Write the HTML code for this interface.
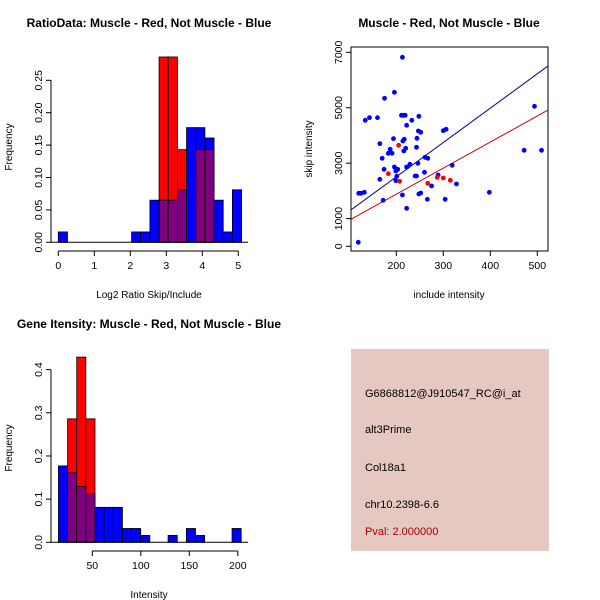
<!DOCTYPE html>
<html><head><meta charset="utf-8"><style>
html,body{margin:0;padding:0;background:#fff;}
svg{display:block;font-family:"Liberation Sans",sans-serif;}
</style></head><body>
<svg id="svg" width="600" height="600" xmlns="http://www.w3.org/2000/svg">
<rect width="600" height="600" fill="#fff"/>
<g id="p1"></g>
<g id="p2"></g>
<g id="p3"></g>
<g id="p4">
<rect x="351" y="349" width="198" height="202" fill="#e6c8c2"/>
<text x="365" y="397" font-size="11" fill="#000">G6868812@J910547_RC@i_at</text>
<text x="365" y="433" font-size="11" fill="#000">alt3Prime</text>
<text x="365" y="471" font-size="11" fill="#000">Col18a1</text>
<text x="365" y="508" font-size="11" fill="#000">chr10.2398-6.6</text>
<text x="365" y="535" font-size="11" fill="#a00000">Pval: 2.000000</text>
</g>
</svg>
<script>
// Panel 1: ratio histogram (20 bins, width 0.2545 from 0)
const ratioBlue = [0.016,0,0,0,0,0,0,0,0.016,0.016,0.065,0.065,0.065,0.081,0.177,0.177,0.161,0.065,0.016,0.081];
const ratioRed  = [0,0,0,0,0,0,0,0,0,0,0,0.286,0.286,0.143,0,0.143,0.143,0,0,0];
const ratioXTicks = [0,1,2,3,4,5];
const ratioYTicks = ["0.00","0.05","0.10","0.15","0.20","0.25"];
// Panel 3: intensity histogram (20 bins from 15.1, width 9.42)
const intBlue = [0.177,0.161,0.129,0.113,0.081,0.081,0.081,0.032,0.032,0.016,0,0,0.016,0,0.032,0.016,0,0,0,0.032];
const intRed  = [0,0.286,0.429,0.286,0,0,0,0,0,0,0,0,0,0,0,0,0,0,0,0];
const intXTicks = [50,100,150,200];
const intYTicks = ["0.0","0.1","0.2","0.3","0.4"];
// Panel 2: scatter
const blueX = [119,120,125,132,134,143,160,175,196,213,165,170,174,165,172,183,187,191,194,196,203,199,199,201,214,217,215,219,211,222,233,248,220,216,222,229,213,222,243,244,247,252,246,261,267,240,243,260,248,252,266,275,289,300,306,319,328,304,398,472,494,509];
const blueY = [144,1912,1912,1948,4547,4643,4643,5340,5557,6820,3705,3175,2778,2418,1660,3356,3500,3356,3885,2862,2778,2718,2370,2526,3800,3861,4727,4727,4727,4366,4547,4691,3536,3440,2862,2959,1852,1371,3572,3897,4162,4114,2995,3211,3175,2538,2538,2670,1888,1924,1696,2177,2574,4174,4222,2923,2249,1696,1948,3464,5052,3464];
const redX = [183,205,207,267,287,300,315];
const redY = [2622,3644,2345,2273,2490,2466,2381];
const blueLine = [28.7,12.39]; // intercept, slope
const redLine = [1,9.40];
const scXTicks = [200,300,400,500];
const scYTicks = [0,1000,3000,5000,7000];

const NS="http://www.w3.org/2000/svg";
function mk(parent,tag,attrs,txt){const e=document.createElementNS(NS,tag);for(const k in attrs)e.setAttribute(k,attrs[k]);if(txt!==undefined)e.textContent=txt;parent.appendChild(e);return e;}

function hist(g,blue,red,b0,bw,sx,sy){
  for(let i=0;i<blue.length;i++){
    const xa=sx(b0+i*bw), xb=sx(b0+(i+1)*bw);
    const hb=blue[i], hr=red[i];
    const mx=Math.max(hb,hr), mn=Math.min(hb,hr);
    if(mx>0){
      const r=mk(g,'rect',{x:xa,y:sy(mx),width:xb-xa,height:sy(0)-sy(mx),fill:hb>=hr?'#0000ff':'#ff0000',stroke:'#000','stroke-width':0.8});
      
      
    }
    if(mn>0){
      const r=mk(g,'rect',{x:xa,y:sy(mn),width:xb-xa,height:sy(0)-sy(mn),fill:'#7f007f',stroke:'#000','stroke-width':0.8});
      
      
    }
  }
}
function yaxis(g,ticks,sy,x,lo,hi){
  mk(g,'line',{x1:x,x2:x,y1:sy(lo),y2:sy(hi),stroke:'#000'});
  ticks.forEach(t=>{const v=parseFloat(t);const y=sy(v);
    mk(g,'line',{x1:x-5,x2:x,y1:y,y2:y,stroke:'#000'});
    const tx=mk(g,'text',{x:x-9,y:y,'font-size':10.5,'text-anchor':'middle',transform:`rotate(-90 ${x-9} ${y})`},t);
    
    
  });
}
function xaxis(g,ticks,sx,y){
  mk(g,'line',{x1:sx(ticks[0]),x2:sx(ticks[ticks.length-1]),y1:y,y2:y,stroke:'#000'});
  ticks.forEach(t=>{const x=sx(t);
    mk(g,'line',{x1:x,x2:x,y1:y,y2:y+5,stroke:'#000'});
    const tx=mk(g,'text',{x:x,y:y+18,'font-size':10.5,'text-anchor':'middle'},String(t));
    
    
  });
}
function label(g,x,y,t,name,opts){const e=mk(g,'text',Object.assign({x:x,y:y,'font-size':11,'text-anchor':'middle'},opts||{}),t);
  
  }

// Panel 1
(function(){
  const g=document.getElementById('p1');
  const sx=v=>58.3+v*36, sy=v=>242.3-v*648;
  hist(g,ratioBlue,ratioRed,0,0.2545,sx,sy);
  mk(g,'line',{x1:51,x2:248,y1:242.3,y2:242.3,stroke:'#000'});
  yaxis(g,ratioYTicks,sy,51,0,0.25);
  xaxis(g,ratioXTicks,sx,251);
  label(g,149,27,'RatioData: Muscle - Red, Not Muscle - Blue','chart-title-1',{'font-weight':'bold','font-size':12});
  label(g,149,298,'Log2 Ratio Skip/Include','x-axis-title-1',{'font-size':10});
  label(g,12,147,'Frequency','y-axis-title-1',{'font-size':10,transform:'rotate(-90 12 147)'});
})();
// Panel 3
(function(){
  const g=document.getElementById('p3');
  const sx=v=>92.3+(v-50)*0.97, sy=v=>542.3-v*431.7;
  hist(g,intBlue,intRed,15.1,9.42,sx,sy);
  mk(g,'line',{x1:51,x2:248,y1:542.3,y2:542.3,stroke:'#000'});
  yaxis(g,intYTicks,sy,51,0,0.4);
  xaxis(g,intXTicks,sx,551);
  label(g,149,328,'Gene Itensity: Muscle - Red, Not Muscle - Blue','chart-title-3',{'font-weight':'bold','font-size':12});
  label(g,149,598,'Intensity','x-axis-title-3',{'font-size':10});
  label(g,12,448,'Frequency','y-axis-title-3',{'font-size':10,transform:'rotate(-90 12 448)'});
})();
// Panel 2
(function(){
  const g=document.getElementById('p2');
  const sx=v=>396.3+(v-200)*0.47, sy=v=>246.3-v*0.02771;
  const clip=mk(g,'clipPath',{id:'cl'});mk(clip,'rect',{x:351,y:47,width:197,height:204});
  const lines=mk(g,'g',{'clip-path':'url(#cl)'});
  [[blueLine,'#00008b','blue-regression-line'],[redLine,'#cc0000','red-regression-line']].forEach(([l,c,n])=>{
    const x1=100,x2=540;
    const e=mk(lines,'line',{x1:sx(x1),x2:sx(x2),y1:sy(l[0]+l[1]*x1),y2:sy(l[0]+l[1]*x2),stroke:c,'stroke-width':1});
    
    
  });
  blueX.forEach((x,i)=>{const c=mk(g,'circle',{cx:sx(x),cy:sy(blueY[i]),r:2.4,fill:'#0000ff'});
    
    });
  redX.forEach((x,i)=>{const c=mk(g,'circle',{cx:sx(x),cy:sy(redY[i]),r:2.4,fill:'#ff0000'});
    
    });
  mk(g,'rect',{x:351,y:47,width:197,height:204,fill:'none',stroke:'#000'});
  const gy=mk(g,'g',{});
  scYTicks.forEach(t=>{const y=sy(t);mk(gy,'line',{x1:346,x2:351,y1:y,y2:y,stroke:'#000'});
    const tx=mk(gy,'text',{x:342,y:y,'font-size':10.5,'text-anchor':'middle',transform:`rotate(-90 342 ${y})`},String(t));
    
    });
  mk(gy,'line',{x1:351,x2:351,y1:sy(0),y2:sy(7000),stroke:'#000'});
  scXTicks.forEach(t=>{const x=sx(t);mk(g,'line',{x1:x,x2:x,y1:251,y2:256,stroke:'#000'});
    const tx=mk(g,'text',{x:x,y:269,'font-size':10.5,'text-anchor':'middle'},String(t));
    
    });
  label(g,449,27,'Muscle - Red, Not Muscle - Blue','chart-title-2',{'font-weight':'bold','font-size':12});
  label(g,449,298,'include intensity','x-axis-title-2',{'font-size':10});
  label(g,312,149,'skip intensity','y-axis-title-2',{'font-size':10,transform:'rotate(-90 312 149)'});
})();
</script>
</body></html>
